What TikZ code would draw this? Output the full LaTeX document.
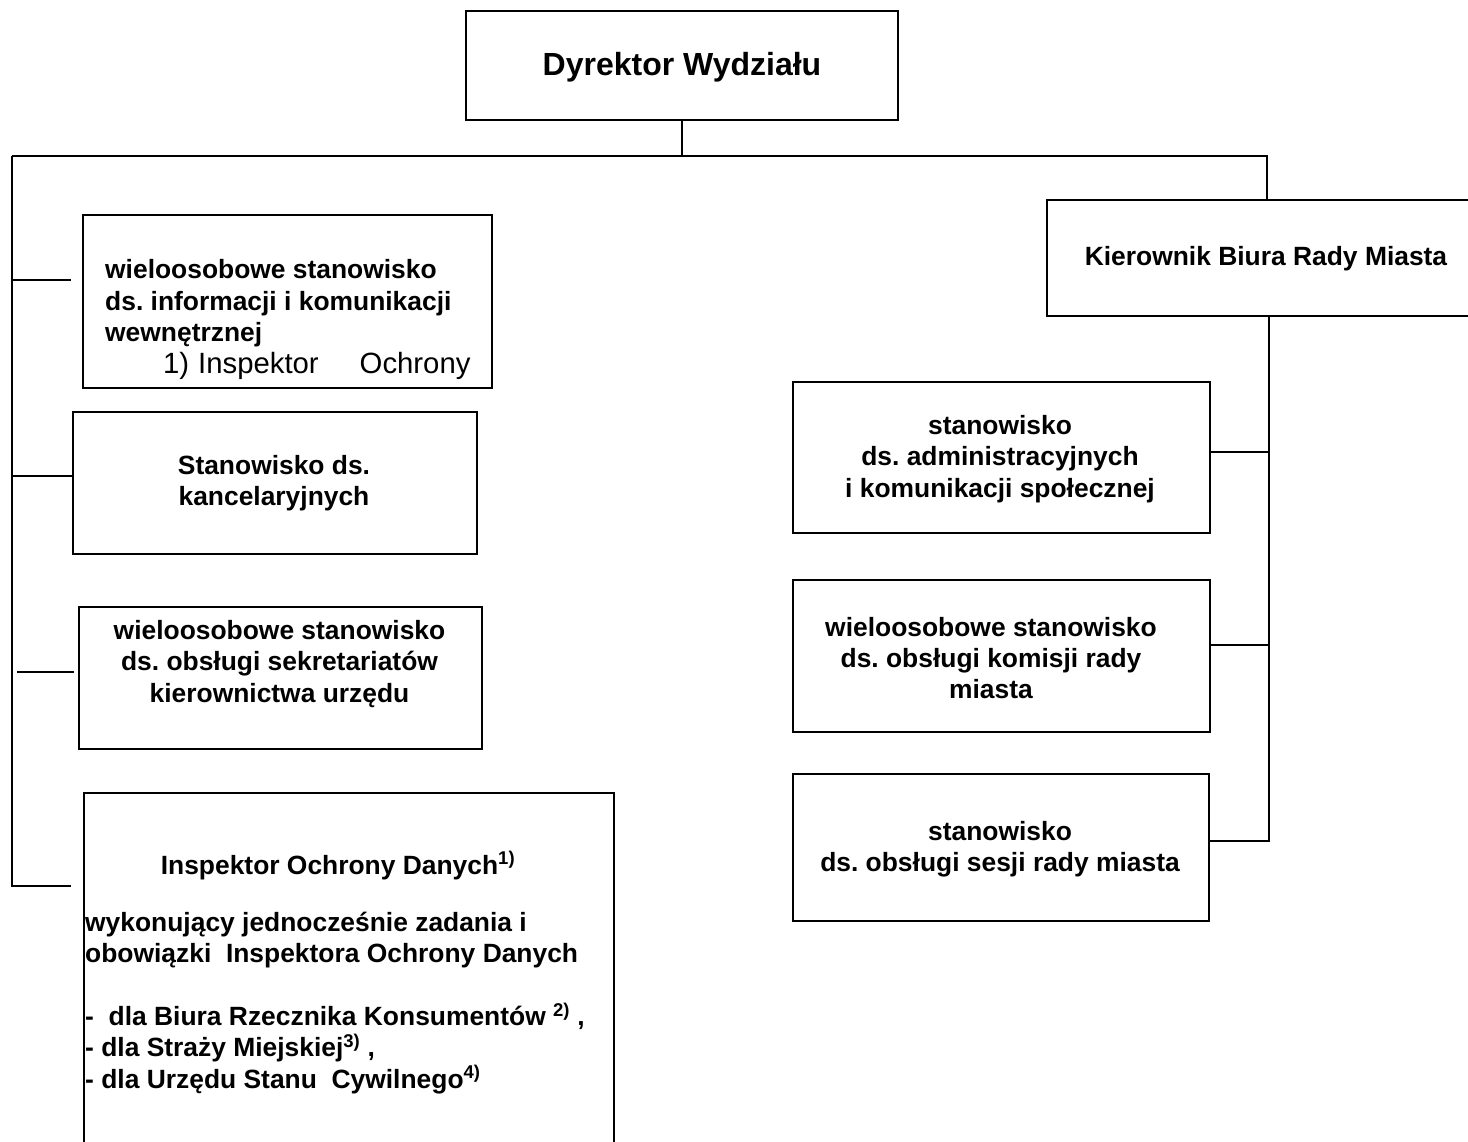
\documentclass[tikz,border=0pt]{standalone}
\usepackage{fontspec}
\setmainfont{Liberation Sans}
\frenchspacing
\begin{document}
\begin{tikzpicture}[x=1pt,y=-1pt,
  box/.style={draw, line width=2pt, rectangle, inner sep=0pt, anchor=north west},
  conn/.style={line width=1.8pt},
  txt/.style={font=\fontsize{26.4}{31.4}\selectfont\bfseries, inner sep=0pt, align=center},
  txtl/.style={font=\fontsize{26.4}{31.4}\selectfont\bfseries, inner sep=0pt, align=left}
  ]
\useasboundingbox (0,0) rectangle (1468,1142);
% boxes
\node[box, minimum width=432pt, minimum height=109pt] (dyr) at (465,10) {};
\node[box, minimum width=424pt, minimum height=116pt] (kier) at (1046,199) {};
\node[box, minimum width=409pt, minimum height=173pt] (l1) at (82,214) {};
\node[box, minimum width=404pt, minimum height=142pt] (l2) at (72,411) {};
\node[box, minimum width=403pt, minimum height=142pt] (l3) at (78,606) {};
\node[box, minimum width=530pt, minimum height=360pt] (l4) at (83,792) {};
\node[box, minimum width=417pt, minimum height=151pt] (r1) at (792,381) {};
\node[box, minimum width=417pt, minimum height=152pt] (r2) at (792,579) {};
\node[box, minimum width=416pt, minimum height=147pt] (r3) at (792,773) {};
% texts
\node[txt, font=\fontsize{32}{38}\selectfont\bfseries] (tdyr) at (682,67) {Dyrektor Wydziału};
\node[txt] (tkier) at (1266,259) {Kierownik Biura Rady Miasta};
\node[txtl, anchor=base west] (tl1) at (105,373) {wieloosobowe stanowisko\\ds. informacji i komunikacji\\wewnętrznej\\\hspace*{58pt}{\mdseries\fontsize{29.3}{31.4}\selectfont 1)\hspace{9pt}Inspektor\hspace{41pt}Ochrony}};
\node[txt] (tl2) at (274,483) {Stanowisko ds.\\kancelaryjnych};
\node[txt] (tl3) at (279.5,664) {wieloosobowe stanowisko\\ds. obsługi sekretariatów\\kierownictwa urzędu};
\node[txt, anchor=base] (tl4a) at (338,874) {Inspektor Ochrony Danych\textsuperscript{1)}};
\node[txtl, anchor=base west] (tl4b) at (85,1088) {wykonujący jednocześnie zadania i\\obowiązki\ \ Inspektora Ochrony Danych\\[31.4pt]-\ \ dla Biura Rzecznika Konsumentów \textsuperscript{2)} ,\\- dla Straży Miejskiej\textsuperscript{3)} ,\\- dla Urzędu Stanu\ \ Cywilnego\textsuperscript{4)}};
\node[txt] (tr1) at (1000,459) {stanowisko\\ds. administracyjnych\\i komunikacji społecznej};
\node[txt] (tr2) at (991,658) {wieloosobowe stanowisko\\ds. obsługi komisji rady\\miasta};
\node[txt] (tr3) at (1000,849) {stanowisko\\ds. obsługi sesji rady miasta};
% connectors
\coordinate (hl) at (12,156);
\coordinate (hr) at (1267,156);
\coordinate (lb) at (12,886);
\coordinate (s1) at (71,280);
\coordinate (s2) at (72,476);
\coordinate (s3a) at (17,672);
\coordinate (s3) at (74,672);
\coordinate (s4) at (71,886);
\coordinate (rv) at (1269,841);
\coordinate (t1) at (1209,452);
\coordinate (t2) at (1209,645);
\draw[conn] (dyr.south) -- (dyr.south |- hl);
\draw[conn] (hl) -- (hr) -- (hr |- kier.north);
\draw[conn] (hl) -- (lb) -- (s4);
\draw[conn] (hl |- s1) -- (s1);
\draw[conn] (hl |- s2) -- (s2);
\draw[conn] (s3a) -- (s3);
\draw[conn] (rv |- kier.south) -- (rv) -- (rv -| r3.east);
\draw[conn] (t1) -- (t1 -| rv);
\draw[conn] (t2) -- (t2 -| rv);
\end{tikzpicture}
\end{document}
